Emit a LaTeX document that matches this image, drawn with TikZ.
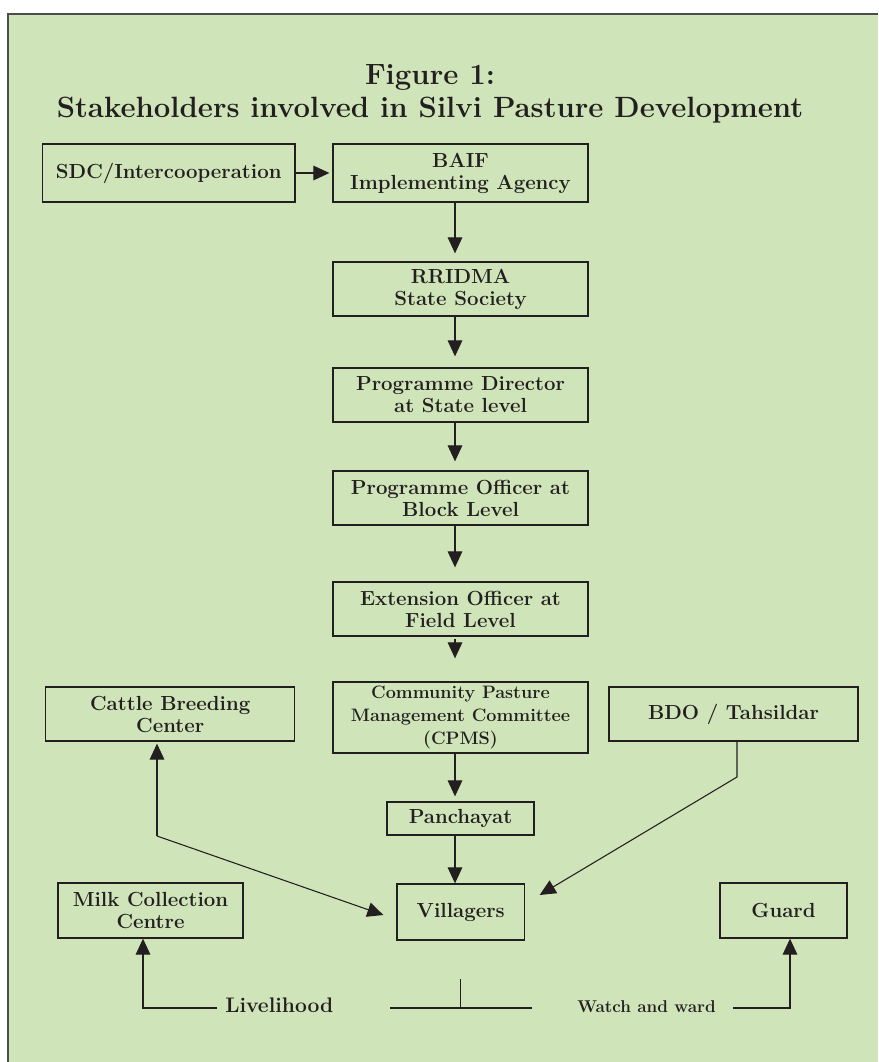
\documentclass[tikz,border=0pt]{standalone}
\usepackage{fontspec}
\usetikzlibrary{arrows.meta}
\definecolor{bg}{HTML}{CFE4B8}
\definecolor{ink}{HTML}{231F20}
\definecolor{framec}{HTML}{4D4D4D}
\begin{document}
\begin{tikzpicture}[x=0.75pt,y=-0.75pt,
  box/.style={draw=ink, line width=1pt, inner sep=0pt, align=center, text=ink,
    font=\bfseries\fontsize{15.3}{16.5}\selectfont},
  lbl/.style={inner sep=0pt, text=ink, font=\bfseries\fontsize{15.8}{16.5}\selectfont},
  ttl/.style={inner sep=0pt, text=ink, font=\bfseries\fontsize{22}{26}\selectfont},
  conn/.style={draw=ink, line width=0.8pt},
  arr/.style={conn, -{Triangle[length=12pt,width=11pt]}}
]
\useasboundingbox (0,0) rectangle (878,1062);
\path[fill=bg] (8,14) rectangle (878,1062);
\draw[framec, line width=1.2pt] (8,1062) -- (8,14) -- (878,14);

% title
\node[ttl, anchor=base] (t1) at (430,85) {Figure 1:};
\node[ttl, anchor=base] (t2) at (430,118) {Stakeholders involved in Silvi Pasture Development};

% boxes
\node[box, minimum width=189.4pt, minimum height=43.5pt] (sdc) at (168.75,173) {SDC/Intercooperation};
\node[box, minimum width=191.25pt, minimum height=43.5pt] (baif) at (460.5,173) {BAIF\\Implementing Agency};
\node[box, minimum width=191.25pt, minimum height=40.5pt] (rridma) at (460.5,289) {RRIDMA\\State Society};
\node[box, minimum width=191.25pt, minimum height=40.5pt] (pd) at (460.5,395) {Programme Director\\at State level};
\node[box, minimum width=191.25pt, minimum height=40.5pt] (po) at (460.5,498) {Programme Officer at\\Block Level};
\node[box, minimum width=191.25pt, minimum height=40.5pt] (eo) at (460.5,609) {Extension Officer at\\Field Level};
\node[box, minimum width=191.25pt, minimum height=53.25pt, font=\bfseries\fontsize{13.5}{17.5}\selectfont] (cpms) at (460.5,717.5) {Community Pasture\\Management Committee\\(CPMS)};
\node[box, minimum width=186.75pt, minimum height=40.5pt] (cattle) at (170.2,714) {Cattle Breeding\\Center};
\node[box, minimum width=186.75pt, minimum height=40.5pt] (bdo) at (733.5,714) {BDO / Tahsildar};
\node[box, minimum width=110.25pt, minimum height=24.75pt] (panch) at (460.5,818.5) {Panchayat};
\node[box, minimum width=95.6pt, minimum height=42pt] (vill) at (460.75,912) {Villagers};
\node[box, minimum width=138.75pt, minimum height=41.25pt] (milk) at (150.5,910.5) {Milk Collection\\Centre};
\node[box, minimum width=95.25pt, minimum height=41.25pt] (guard) at (783.5,910.5) {Guard};

% bottom labels
\node[lbl, anchor=base west] (live) at (225,1012) {Livelihood};
\node[lbl, anchor=base west, font=\bfseries\fontsize{12.8}{14}\selectfont] (watch) at (577,1012) {Watch and ward};

% helper coordinates
\coordinate (col) at (455,0);
\coordinate (cb) at (157,836);
\coordinate (bd) at (737,777);
\coordinate (ls) at (217,1008);
\coordinate (ml) at (143,1008);
\coordinate (ws) at (733,1008);
\coordinate (gd) at (790,1008);
\coordinate (midl) at (390,1008);
\coordinate (midr) at (532,1008);
\coordinate (midt) at (460.5,979);
\coordinate (midb) at (460.5,1008);

% connectors
\draw[arr, shorten >=2.25pt] (sdc.east) -- (baif.west);
\draw[arr, shorten >=6pt] (baif.south -| col) -- (rridma.north -| col);
\draw[arr, shorten >=8.25pt] (rridma.south -| col) -- (pd.north -| col);
\draw[arr, shorten >=6.75pt] (pd.south -| col) -- (po.north -| col);
\draw[arr, shorten >=10.5pt] (po.south -| col) -- (eo.north -| col);
\draw[arr, shorten <=1.5pt, shorten >=17.25pt] (eo.south -| col) -- (cpms.north -| col);
\draw[arr, shorten >=3.75pt] (cpms.south -| col) -- (panch.north -| col);
\draw[arr] (panch.south -| col) -- (vill.north -| col);

\draw[arr, shorten >=1.5pt] (cb) -- (cattle.south -| cb);
\draw[arr] (cb) -- ([shift={(-13,3)}]vill.west);
\draw[arr] (bdo.south -| bd) -- (bd) -- ([shift={(14.5,-17)}]vill.east);

\draw[arr] (ls) -- (ml) -- (milk.south -| ml);
\draw[arr] (ws) -- (gd) -- (guard.south -| gd);
\draw[conn] (midl) -- (midr);
\draw[conn] (midt) -- (midb);
\end{tikzpicture}
\end{document}
